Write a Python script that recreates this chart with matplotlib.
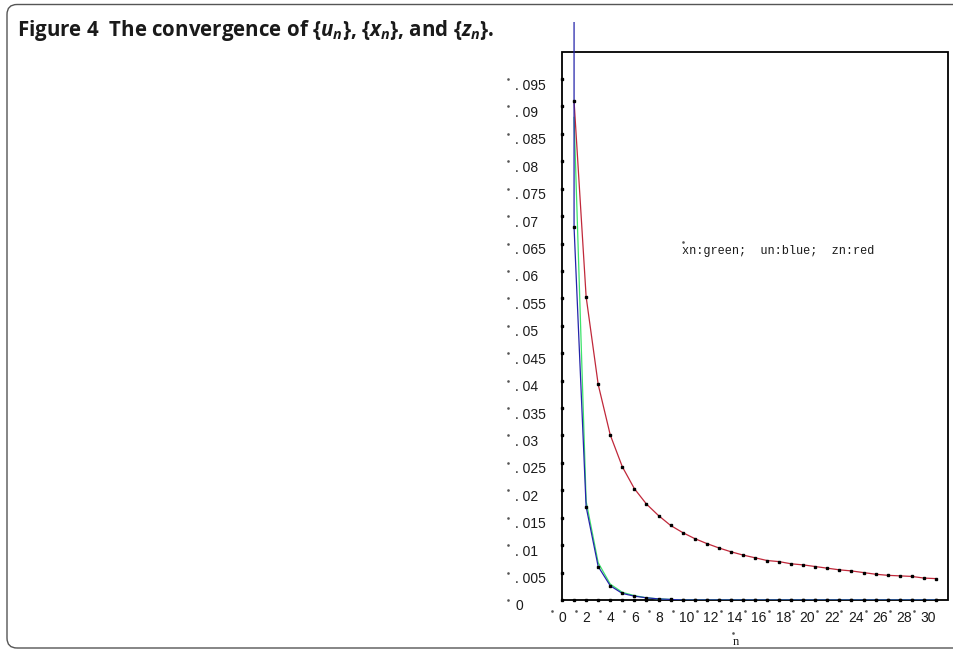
import matplotlib
matplotlib.use('Agg')
import matplotlib.pyplot as plt
import numpy as np
from matplotlib.patches import Rectangle, FancyBboxPatch
from matplotlib.transforms import IdentityTransform, offset_copy

# ---------------- data ----------------
# u series: the first (huge) point and the second are both drawn at n = 1
u_n = [1, 1] + list(range(2, 32))
u_vals = [0.5000, 0.0680, 0.0170, 0.0061, 0.0026, 0.0012, 0.0007, 0.0004, 0.0002, 0.0001, 0.0000,
          0.0000, 0.0000, 0.0000, 0.0000, 0.0000, 0.0000, 0.0000, 0.0000, 0.0000, 0.0000,
          0.0000, 0.0000, 0.0000, 0.0000, 0.0000, 0.0000, 0.0000, 0.0000, 0.0000, 0.0000, 0.0000]
n = list(range(1, 32))
x_vals = [0.0880, 0.0180, 0.0068, 0.0029, 0.0014, 0.0008, 0.0004, 0.0002, 0.0001, 0.0000,
          0.0000, 0.0000, 0.0000, 0.0000, 0.0000, 0.0000, 0.0000, 0.0000, 0.0000, 0.0000,
          0.0000, 0.0000, 0.0000, 0.0000, 0.0000, 0.0000, 0.0000, 0.0000, 0.0000, 0.0000, 0.0000]
z_vals = [0.0910, 0.0553, 0.0393, 0.0301, 0.0243, 0.0203, 0.0175, 0.0154, 0.0136, 0.0123,
          0.0112, 0.0103, 0.0095, 0.0088, 0.0082, 0.0077, 0.0072, 0.0070, 0.0066, 0.0064,
          0.0061, 0.0058, 0.0055, 0.0053, 0.0050, 0.0047, 0.0045, 0.0044, 0.0043, 0.0040, 0.0039]

ytick_vals = [round(0.005 * i, 3) for i in range(20)]
ytick_labels = ['0'] + ['. ' + f"{v:.3f}".rstrip('0')[2:] for v in ytick_vals[1:]]
xaxis_points = list(range(0, 32))
xtick_vals = list(range(0, 31, 2))
xtick_labels = [str(v) for v in xtick_vals]

title_text = "Figure 4  The convergence of {$u_n$}, {$x_n$}, and {$z_n$}."
legend_text = "xn:green;  un:blue;  zn:red"
xlabel_text = "n"

# ---------------- style ----------------
plt.rcParams['mathtext.fontset'] = 'custom'
plt.rcParams['mathtext.it'] = 'Open Sans:italic:bold'
plt.rcParams['mathtext.rm'] = 'Open Sans:bold'
plt.rcParams['mathtext.bf'] = 'Open Sans:bold'

W, H = 954, 655
fig = plt.figure(figsize=(W / 100, H / 100), dpi=100)

# page frame (rounded, extends beyond right edge)
frame = FancyBboxPatch((7, H - 648), 1100, 643.5, boxstyle="round,pad=0,rounding_size=10",
                       transform=IdentityTransform(), fill=False, edgecolor='#555555', lw=1.0)
fig.add_artist(frame)

fig.text(17 / W, 1 - 36 / H, title_text, fontsize=14.8, fontweight='bold',
         family='Open Sans', ha='left', va='baseline', color='#1a1a1a')

ax = fig.add_axes([562 / W, (H - 600) / H, 386 / W, 578 / H])
ax.set_xlim(0, 32)
ax.set_ylim(0, 578 / 5484.0)
ax.axis('off')

green = '#3de36a'
red = '#c0283a'
blue = '#2424aa'

# plot box
box = Rectangle((0, 0), 32, 0.1, fill=False, edgecolor='black', lw=1.3, clip_on=False, zorder=1)
ax.add_patch(box)

ax.plot(n, x_vals, color=green, lw=0.9, zorder=2)
ax.plot(n, z_vals, color=red, lw=0.9, zorder=3)
ax.plot(u_n, u_vals, color=blue, lw=0.9, zorder=4)

# data point markers
ax.plot(n, z_vals, 's', ms=1.6, color='black', zorder=5)
ax.plot(u_n[1:], u_vals[1:], 's', ms=1.6, color='black', zorder=5)

# axis tick dots
ax.plot(xaxis_points, [0] * len(xaxis_points), 's', ms=1.9, color='black', clip_on=False, zorder=7)
ax.plot([0] * (len(ytick_vals) - 1), ytick_vals[1:], 's', ms=1.9, color='black', clip_on=False, zorder=7)

# y tick labels
ytrans = offset_copy(ax.get_yaxis_transform(), fig=fig, x=0, y=-6.5, units='dots')
for v, lab in zip(ytick_vals, ytick_labels):
    ax.text(-47 / 386, v, lab, transform=ytrans, ha='left', va='center',
            fontsize=10, family='Liberation Sans', color='#1a1a1a')
ax.plot([-54 / 386] * len(ytick_vals), ytick_vals, 's', ms=0.8, color='#555555',
        transform=ax.get_yaxis_transform(), clip_on=False)

# x tick labels
xtrans = offset_copy(ax.get_xaxis_transform(), fig=fig, x=-3.5, y=-18, units='dots')
for v, lab in zip(xtick_vals, xtick_labels):
    ax.text(v, 0, lab, transform=xtrans, ha='left', va='center',
            fontsize=10, family='Liberation Sans', color='#1a1a1a')
xdot = offset_copy(ax.get_xaxis_transform(), fig=fig, x=-10, y=-10.7, units='dots')
ax.plot(xtick_vals, [0] * len(xtick_vals), 's', ms=0.8, color='#555555',
        transform=xdot, clip_on=False)

# axis label n
ax.text((736 - 562) / 386, (600 - 642) / 578, xlabel_text, transform=ax.transAxes,
        ha='center', va='center', fontsize=9, family='Liberation Serif', color='#1a1a1a')
ax.plot([(733 - 562) / 386], [(600 - 633) / 578], 's', ms=0.8, color='#555555',
        transform=ax.transAxes, clip_on=False)

# annotation text
ax.text((682 - 562) / 386, (600 - 251) / 578, legend_text, transform=ax.transAxes,
        ha='left', va='center', fontsize=8.6, family='Liberation Mono', color='#1a1a1a')
ax.plot([(683 - 562) / 386], [(600 - 242) / 578], 's', ms=0.8, color='#555555',
        transform=ax.transAxes, clip_on=False)

fig.savefig('out.png', dpi=100)
